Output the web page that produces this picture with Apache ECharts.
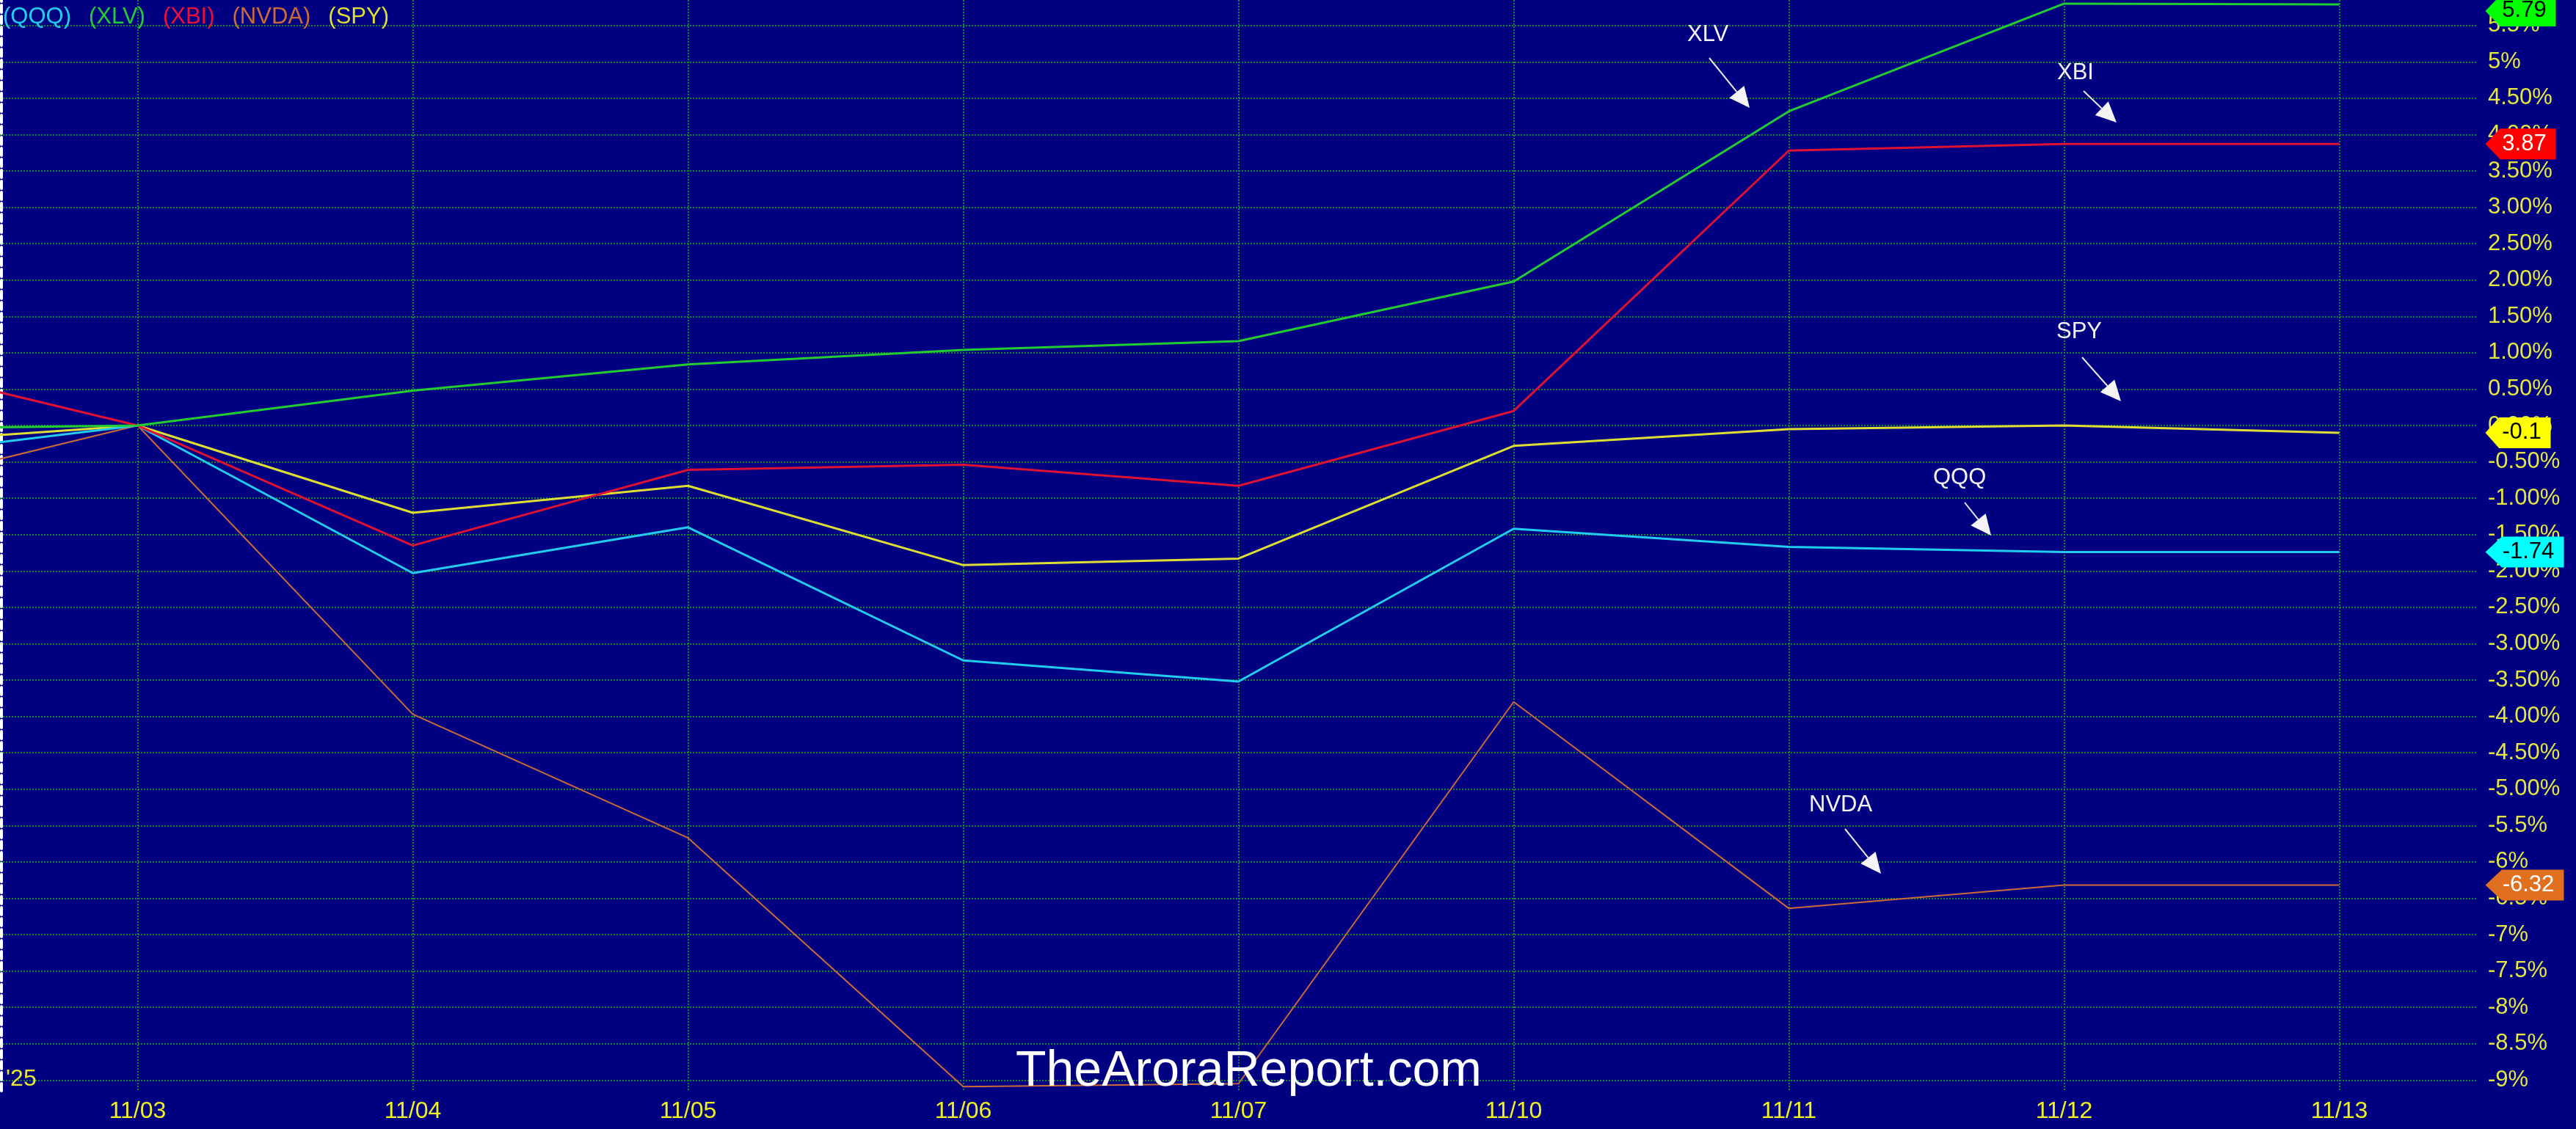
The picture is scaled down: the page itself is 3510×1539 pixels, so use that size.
<!DOCTYPE html>
<html>
<head>
<meta charset="utf-8">
<title>QQQ XLV XBI NVDA SPY</title>
<script src="https://cdn.jsdelivr.net/npm/echarts@6/dist/echarts.min.js"></script>
<style>
html, body { margin: 0; padding: 0; background: #000080; }
#main { width: 3510px; height: 1539px; }
</style>
</head>
<body>
<div id="main"></div>
<script>
// % change since 11/03 close; 10/31 sits half off the left edge
var dates = ['10/31', '11/03', '11/04', '11/05', '11/06', '11/07', '11/10', '11/11', '11/12', '11/13'];
var qqq  = [-0.46, 0, -2.03, -1.40, -3.23, -3.52, -1.42, -1.67, -1.74, -1.74];
var xlv  = [-0.05, 0, 0.48, 0.84, 1.04, 1.16, 1.98, 4.32, 5.80, 5.79];
var xbi  = [0.91, 0, -1.65, -0.61, -0.54, -0.83, 0.20, 3.78, 3.87, 3.87];
var nvda = [-0.92, 0, -3.97, -5.67, -9.09, -9.05, -3.80, -6.64, -6.32, -6.32];
var spy  = [-0.26, 0, -1.20, -0.83, -1.92, -1.83, -0.28, -0.05, 0.00, -0.10];

var yTicks = [5.5, 5, 4.5, 4, 3.5, 3, 2.5, 2, 1.5, 1, 0.5, 0, -0.5, -1, -1.5, -2, -2.5, -3,
  -3.5, -4, -4.5, -5, -5.5, -6, -6.5, -7, -7.5, -8, -8.5, -9];
var yTickLabels = ['5.5%', '5%', '4.50%', '4.00%', '3.50%', '3.00%', '2.50%', '2.00%', '1.50%',
  '1.00%', '0.50%', '0.00%', '-0.50%', '-1.00%', '-1.50%', '-2.00%', '-2.50%', '-3.00%',
  '-3.50%', '-4.00%', '-4.50%', '-5.00%', '-5.5%', '-6%', '-6.5%', '-7%', '-7.5%', '-8%',
  '-8.5%', '-9%'];
var xTicks = dates.map(function (d, i) { return i; }).slice(1);

var FONT = 'Liberation Sans, Arial, sans-serif';
var GRID = { color: '#0c8a2c', type: [2, 2], width: 2 };

var ctx = document.createElement('canvas').getContext('2d');
ctx.font = '31px Liberation Sans';

function pairs (arr) {
  return arr.map(function (v, i) { return [i, v]; });
}

// price tag at the right end of each line
function tag (values, fill, textColor, dy) {
  var last = values.length - 1;
  var txt = String(+values[last].toFixed(2));
  var w = Math.round(ctx.measureText(txt).width + 36);
  return {
    silent: true,
    symbol: 'path://M0,21L21,0L100,0L100,42L21,42Z',
    symbolSize: [w, 42],
    symbolOffset: [199 + w / 2, dy || 0],
    itemStyle: { color: fill },
    label: {
      show: true, position: 'inside', offset: [5, 0], formatter: txt,
      color: textColor, fontSize: 31, fontFamily: FONT
    },
    data: [{ coord: [last, values[last]] }]
  };
}

function line (name, values, color, width, tagFill, tagText, dy) {
  return {
    name: name,
    type: 'line',
    data: pairs(values),
    symbol: 'none',
    lineStyle: { color: color, width: width },
    itemStyle: { color: color },
    markPoint: tag(values, tagFill, tagText, dy)
  };
}

// labels with arrows
var notes = [
  { text: 'XLV',  x: 2299, y: 47,   from: [2329, 79],   to: [2384, 147] },
  { text: 'XBI',  x: 2803, y: 99,   from: [2839, 124],  to: [2884, 167] },
  { text: 'SPY',  x: 2802, y: 452,  from: [2837, 487],  to: [2890, 547] },
  { text: 'QQQ',  x: 2634, y: 651,  from: [2677, 685],  to: [2713, 730] },
  { text: 'NVDA', x: 2465, y: 1097, from: [2514, 1130], to: [2563, 1191] }
];

var graphics = [];
notes.forEach(function (n) {
  var dx = n.to[0] - n.from[0], dy = n.to[1] - n.from[1];
  var len = Math.sqrt(dx * dx + dy * dy);
  var ux = dx / len, uy = dy / len;
  var bx = n.to[0] - ux * 28, by = n.to[1] - uy * 28;
  graphics.push({
    type: 'text', x: n.x, y: n.y, z: 10,
    style: { text: n.text, fill: '#f2f2f2', font: '31px ' + FONT, verticalAlign: 'middle' }
  });
  graphics.push({
    type: 'line', z: 10,
    shape: { x1: n.from[0], y1: n.from[1], x2: bx, y2: by },
    style: { stroke: '#e8e8e8', lineWidth: 2 }
  });
  graphics.push({
    type: 'polygon', z: 10,
    shape: { points: [n.to, [bx - uy * 13, by + ux * 13], [bx + uy * 13, by - ux * 13]] },
    style: { fill: '#f4f4f4' }
  });
});
graphics.push({
  type: 'text', x: 8, y: 1487, z: 10,
  style: { text: "'25", fill: '#e8e830', font: '32px ' + FONT, verticalAlign: 'bottom' }
});
graphics.push({
  type: 'text', x: 1384, y: 1461, z: 10,
  style: { text: 'TheAroraReport.com', fill: '#ffffff', font: '68px ' + FONT, verticalAlign: 'middle' }
});

var chart = echarts.init(document.getElementById('main'));
chart.setOption({
  backgroundColor: '#000080',
  animation: false,
  textStyle: { fontFamily: FONT },
  grid: { left: 0, right: 135, top: 0, bottom: 52 },
  legend: {
    left: -2, top: 8, padding: 0, itemWidth: 0, itemHeight: 0, itemGap: 18,
    formatter: '({name})',
    textStyle: { fontSize: 31, fontFamily: FONT },
    data: [
      { name: 'QQQ', textStyle: { color: '#22ccee' } },
      { name: 'XLV', textStyle: { color: '#22cc33' } },
      { name: 'XBI', textStyle: { color: '#ee1133' } },
      { name: 'NVDA', textStyle: { color: '#cc6a38' } },
      { name: 'SPY', textStyle: { color: '#dddd33' } }
    ]
  },
  xAxis: {
    type: 'value', min: 0.5, max: 9.5,
    axisLine: { show: false },
    axisTick: { show: false, customValues: xTicks },
    axisLabel: {
      customValues: xTicks, color: '#f0f020', fontSize: 32, margin: 12,
      formatter: function (v) { return dates[Math.round(v)]; }
    },
    splitLine: { show: true, lineStyle: GRID }
  },
  yAxis: [{
    type: 'value', position: 'right', min: -9.148, max: 5.85,
    axisLine: { show: false },
    axisTick: { show: false, customValues: yTicks },
    axisLabel: {
      customValues: yTicks, color: '#e6e640', fontSize: 31, margin: 15,
      formatter: function (v) {
        for (var i = 0; i < yTicks.length; i++) {
          if (Math.abs(yTicks[i] - v) < 1e-6) return yTickLabels[i];
        }
        return '';
      }
    },
    splitLine: { show: true, lineStyle: GRID }
  }, {
    // white dashed marker on the left edge
    type: 'value', position: 'left', offset: -2, min: -9.148, max: 5.85,
    axisLine: { show: true, lineStyle: { color: '#ffffff', width: 4, type: [10, 5] } },
    axisTick: { show: false }, axisLabel: { show: false }, splitLine: { show: false }
  }],
  series: [
    line('NVDA', nvda, '#cc6a38', 2, '#e07020', '#ffffff'),
    line('SPY', spy, '#dddd33', 3, '#ffff00', '#000000'),
    line('QQQ', qqq, '#22ccee', 3, '#00ffff', '#000000'),
    line('XBI', xbi, '#dd1133', 3, '#ff0000', '#ffffff'),
    line('XLV', xlv, '#22cc33', 3, '#00ff00', '#000000', 9)
  ],
  graphic: graphics
});
</script>
</body>
</html>
